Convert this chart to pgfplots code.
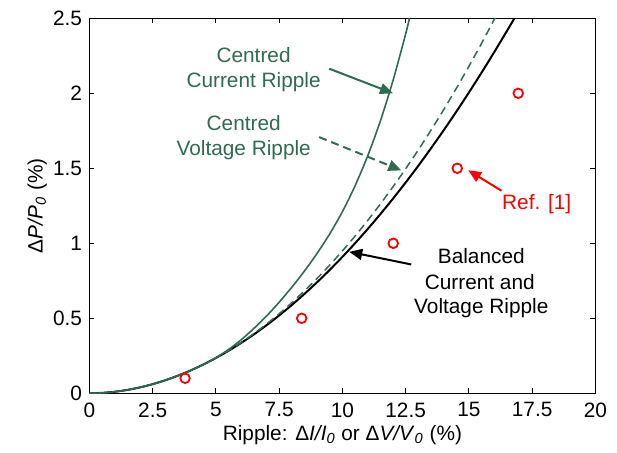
\documentclass[border=0pt]{standalone}
\usepackage{fontspec}
\setmainfont{Liberation Sans}
\usepackage{pgfplots}
\pgfplotsset{compat=1.18}
\usetikzlibrary{arrows.meta}
\definecolor{cgreen}{RGB}{46,107,80}
\begin{document}
\fontsize{10.4}{12.5}\selectfont
\begin{tikzpicture}
\useasboundingbox (-44.7pt,-29.85pt) rectangle (263.8pt,196.65pt);
\begin{axis}[
    scale only axis,
    width=253pt, height=187.5pt,
    xmin=0, xmax=20, ymin=0, ymax=2.5,
    xtick={0,2.5,...,20},
    ytick={0,0.5,...,2.5},
    tick align=inside,
    major tick length=2.5pt,
    axis line style={line width=0.75pt},
    tick style={black, line width=0.5pt},
    /pgf/number format/assume math mode=true,
    xticklabel style={yshift=-1pt},
    xlabel={Ripple: Δ\textit{I/I}\textsubscript{\textit{0}} or Δ\textit{V/V}\textsubscript{\textit{0}} (\%)},
    ylabel={Δ\textit{P/P}\textsubscript{\textit{0}} (\%)},
    xlabel style={at={(axis description cs:0.5,-0.125)}, anchor=base},
    ylabel style={at={(axis description cs:-0.103,0.5)}, anchor=center},
]
% balanced
\addplot[black, line width=1pt, smooth] coordinates {
(0,0) (0.5,0.0026) (1,0.0102) (1.5,0.0225) (2,0.0394) (2.5,0.0609)
(3,0.0869) (3.5,0.1174) (4,0.1523) (4.5,0.1917) (5,0.2354) (5.5,0.2834)
(6,0.3359) (6.5,0.3926) (7,0.4536) (7.5,0.5190) (8,0.5886) (8.5,0.6625)
(9,0.7405) (9.5,0.8228) (10,0.9094) (10.5,1.0002) (11,1.0952) (11.5,1.1942)
(12,1.2977) (12.5,1.4051) (13,1.5168) (13.5,1.6328) (14,1.7528) (14.5,1.8767)
(15,2.0053) (15.5,2.1374) (16,2.2741) (16.5,2.4148) (16.8,2.5)
};
% centred voltage ripple
\addplot[cgreen, line width=0.75pt, dash pattern=on 4pt off 2.5pt, smooth] coordinates {
(0,0) (0.5,0.0026) (1,0.0102) (1.5,0.0225) (2,0.0394) (2.5,0.0609)
(3,0.0869) (3.5,0.1174) (4,0.1523) (4.5,0.1917) (5,0.2354) (5.5,0.2846)
(6,0.3388) (6.5,0.3977) (7,0.4615) (7.5,0.5303) (8,0.6040) (8.5,0.6827)
(9,0.7663) (9.5,0.8550) (10,0.9490) (10.5,1.0481) (11,1.1524) (11.5,1.2617)
(12,1.3767) (12.5,1.4968) (13,1.6224) (13.5,1.7535) (14,1.8900) (14.5,2.0318)
(15,2.1798) (15.5,2.3327) (16,2.4917) (16.03,2.5)
};
% centred current ripple
\addplot[cgreen, line width=0.8pt, smooth] coordinates {
(0,0) (0.5,0.0026) (1,0.0102) (1.5,0.0225) (2,0.0394) (2.5,0.0609)
(3,0.0869) (3.5,0.1174) (4,0.1523) (4.5,0.1917) (5,0.237) (5.5,0.292)
(6,0.357) (6.5,0.432) (7,0.515) (7.5,0.607) (8,0.707) (8.5,0.815)
(9,0.933) (9.5,1.063) (10,1.211) (10.5,1.383) (11,1.583) (11.5,1.815)
(12,2.085) (12.5,2.395) (12.65,2.5)
};
% Ref. [1]
\addplot[only marks, mark=o, mark size=2.4pt, red, line width=0.9pt] coordinates {
(3.78,0.1) (8.39,0.5) (12.01,1.0) (14.54,1.5) (16.95,2.0)
};
% annotations
\node[anchor=base, text=cgreen] at (axis cs:6.49,2.204) {Centred};
\node[anchor=base, text=cgreen] at (axis cs:6.49,2.038) {Current Ripple};
\node[anchor=base, text=cgreen] at (axis cs:6.10,1.752) {Centred};
\node[anchor=base, text=cgreen] at (axis cs:6.10,1.583) {Voltage Ripple};
\node[anchor=base, text=red] at (axis cs:17.68,1.228) {Ref. [1]};
\node[anchor=base] at (axis cs:15.49,0.862) {Balanced};
\node[anchor=base] at (axis cs:15.43,0.695) {Current and};
\node[anchor=base] at (axis cs:15.49,0.529) {Voltage Ripple};
\draw[cgreen, line width=1pt, -{Triangle[length=6.5pt,width=5.5pt]}] (axis cs:9.48,2.164) -- (axis cs:12.0,2.0);
\draw[cgreen, line width=1pt, dash pattern=on 4pt off 2.5pt, -{Triangle[length=6.5pt,width=5.5pt]}] (axis cs:9.08,1.708) -- (axis cs:12.33,1.486);
\draw[red, line width=1pt, -{Triangle[length=6.5pt,width=5.5pt]}] (axis cs:16.29,1.35) -- (axis cs:14.97,1.487);
\draw[black, line width=1pt, -{Triangle[length=6.5pt,width=5.5pt]}] (axis cs:12.72,0.859) -- (axis cs:10.27,0.943);
\end{axis}
\end{tikzpicture}
\end{document}
